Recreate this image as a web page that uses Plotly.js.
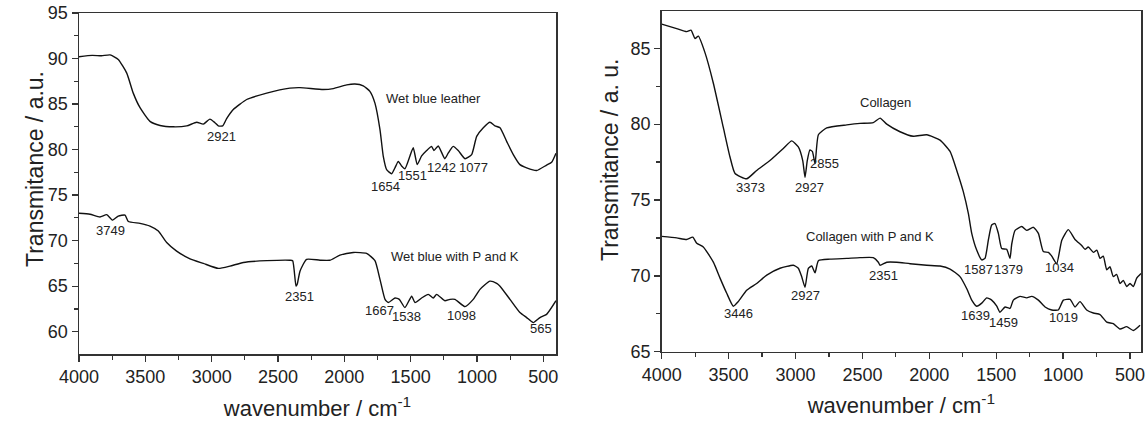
<!DOCTYPE html>
<html>
<head>
<meta charset="utf-8">
<script src="https://cdn.plot.ly/plotly-3.0.1.min.js"></script>
<style>html,body{margin:0;padding:0;background:#fff;}#chart{width:1148px;height:423px;}</style>
</head>
<body>
<div id="chart"></div>
<script>
// ---- Left panel: Wet blue leather ----
const wblX = [4000,3900,3830,3766,3704,3640,3591,3540,3465,3389,3289,3188,3113,3063,3013,2975,2950,2917,2887,2837,2736,2585,2410,2334,2158,2083,1982,1920,1857,1807,1769,1731,1706,1681,1643,1618,1593,1568,1543,1505,1480,1450,1417,1379,1342,1324,1292,1242,1217,1179,1141,1090,1040,1002,952,902,864,826,776,726,676,625,550,475,437,404];
const wblY = [90.2,90.35,90.3,90.4,89.9,88.4,86.2,84.6,83.1,82.65,82.5,82.6,83.0,82.8,83.35,82.95,82.6,82.6,83.4,84.4,85.5,86.2,86.75,86.8,86.6,86.7,87.1,87.2,87.0,86.4,85.1,82.2,79.25,77.8,77.35,78.0,78.7,78.2,77.9,79.3,80.2,78.35,79.3,79.9,80.35,79.9,80.4,79.0,79.6,80.35,79.9,79.0,79.45,81.45,82.4,83.0,82.6,82.4,80.9,79.45,78.35,78.0,77.7,78.3,78.6,79.6];

// ---- Left panel: Wet blue with P and K ----
const wbpX = [4000,3917,3842,3791,3746,3704,3653,3628,3540,3465,3402,3339,3264,3163,3063,2950,2862,2761,2585,2410,2389,2364,2355,2334,2284,2183,2108,2033,1932,1832,1769,1731,1693,1668,1618,1585,1543,1492,1467,1417,1367,1329,1304,1242,1204,1166,1090,1028,977,902,851,826,751,676,625,575,525,475,404];
const wbpY = [73.0,72.9,72.6,72.85,72.25,72.7,72.8,72.1,71.9,71.6,71.05,69.8,68.85,68.0,67.5,66.95,67.2,67.6,67.8,67.85,67.8,65.0,65.2,66.65,67.95,67.85,67.85,68.4,68.7,68.6,67.8,65.75,63.55,63.2,63.7,63.55,62.65,63.9,63.2,63.7,64.1,63.7,64.1,63.4,63.55,63.55,62.75,63.55,64.65,65.55,65.3,65.0,63.55,62.1,61.55,61.0,61.55,61.9,63.4];

// ---- Right panel: Collagen ----
const colX = [4000,3888,3813,3781,3751,3726,3676,3614,3540,3490,3452,3365,3290,3191,3091,3028,2979,2946,2929,2912,2892,2874,2854,2829,2767,2617,2518,2419,2368,2318,2219,2120,2019,1920,1845,1795,1746,1708,1683,1646,1608,1584,1559,1534,1509,1484,1459,1422,1397,1384,1359,1309,1272,1222,1185,1148,1110,1085,1048,1010,961,911,861,836,812,774,748,724,700,674,650,625,600,575,550,525,500,475,450,418];
const colY = [86.6,86.3,86.1,86.2,85.65,85.8,84.7,82.7,79.8,77.85,76.75,76.4,76.95,77.6,78.4,78.9,78.5,77.6,76.5,77.6,78.3,78.2,77.4,79.3,79.75,79.95,80.05,80.1,80.4,80.0,79.5,79.2,79.3,78.95,78.2,76.95,75.55,74.1,72.8,71.7,71.05,71.15,72.35,73.35,73.45,72.8,71.8,71.75,71.15,72.1,73.0,73.25,73.0,73.2,72.8,71.6,71.55,71.3,70.8,72.35,73.05,72.4,72.0,71.75,71.9,71.55,71.7,71.15,71.3,70.4,70.6,69.95,70.1,69.5,69.7,69.3,69.5,69.3,69.85,70.15];

// ---- Right panel: Collagen with P and K ----
const cpkX = [4000,3888,3813,3768,3738,3689,3614,3564,3514,3465,3428,3365,3290,3215,3116,3016,2979,2954,2929,2904,2879,2854,2829,2742,2617,2518,2419,2381,2368,2318,2244,2144,2019,1920,1845,1771,1720,1683,1646,1608,1571,1534,1496,1472,1434,1397,1372,1322,1272,1235,1185,1135,1085,1036,998,948,911,874,824,774,724,674,625,575,525,475,425];
const cpkY = [72.6,72.5,72.4,72.55,72.15,71.9,70.9,69.85,68.85,68.0,68.3,69.05,69.5,70.05,70.5,70.7,70.5,69.95,69.25,70.5,70.65,70.2,71.0,71.1,71.15,71.2,71.2,70.9,70.7,70.9,70.9,70.8,70.7,70.65,70.45,69.95,69.15,68.4,68.0,68.2,68.55,68.4,68.0,67.6,67.95,67.85,68.4,68.65,68.55,68.65,68.4,67.95,67.75,67.75,68.4,68.45,67.95,68.3,67.75,67.55,67.45,66.95,66.85,66.5,66.65,66.4,66.75];

// ---- Labels ----
const leftLabels = ["2921","Wet blue leather","1654","1551","1242","1077","3749","2351","Wet blue with P and K","1667","1538","1098","565"];
const leftLabelX = [2924,1324,1686,1485,1266,1028,3766,2334,1166,1736,1530,1115,520];
const leftLabelY = [81.45,85.65,76.0,77.1,78.0,78.0,71.15,63.85,68.3,62.3,61.65,61.8,60.35];

const rightLabels = ["3373","2927","2855","Collagen","3446","2927","Collagen with P and K","2351","1587","1379","1034","1639","1459","1019"];
const rightLabelX = [3335,2897,2780,2331,3427,2929,2443,2344,1634,1410,1028,1658,1447,998];
const rightLabelY = [75.8,75.8,77.4,81.4,67.5,68.7,72.6,70.0,70.4,70.4,70.55,67.4,66.95,67.25];

const xTickVals = [4000,3500,3000,2500,2000,1500,1000,500];

const lineStyle = {color:'#111', width:1.4, shape:'spline', smoothing:0.5};
const traces = [
  {x:wblX, y:wblY, xaxis:'x', yaxis:'y', mode:'lines', line:lineStyle},
  {x:wbpX, y:wbpY, xaxis:'x', yaxis:'y', mode:'lines', line:lineStyle},
  {x:colX, y:colY, xaxis:'x2', yaxis:'y2', mode:'lines', line:lineStyle},
  {x:cpkX, y:cpkY, xaxis:'x2', yaxis:'y2', mode:'lines', line:lineStyle}
];

const FONT = 'Liberation Sans, Arial, sans-serif';
function xAxis(domain, range, anchor){
  return {domain:domain, range:range, anchor:anchor, showgrid:false, zeroline:false,
    showline:true, linecolor:'#333', linewidth:1.5, mirror:true,
    ticks:'outside', ticklen:6, tickwidth:1.3, tickcolor:'#333',
    tickvals:xTickVals, ticktext:xTickVals.map(String),
    minor:{dtick:250, tick0:0, ticks:'outside', ticklen:4, tickwidth:1.2, tickcolor:'#333'},
    tickfont:{family:FONT, size:18, color:'#222'},
    title:{text:'wavenumber / cm<sup>-1</sup>', font:{family:FONT, size:22, color:'#222'}, standoff:14}};
}
function yAxis(domain, range, anchor){
  return {domain:domain, range:range, anchor:anchor, showgrid:false, zeroline:false,
    showline:true, linecolor:'#333', linewidth:1.5, mirror:true,
    ticks:'outside', ticklen:6, tickwidth:1.3, tickcolor:'#333', dtick:5, tick0:0,
    minor:{dtick:2.5, tick0:0, ticks:'outside', ticklen:4, tickwidth:1.2, tickcolor:'#333'},
    tickfont:{family:FONT, size:18, color:'#222'}};
}

const annotations = [];
leftLabels.forEach((t,i)=>annotations.push({text:t, x:leftLabelX[i], y:leftLabelY[i], xref:'x', yref:'y', showarrow:false, font:{family:FONT, size:13, color:'#222'}}));
rightLabels.forEach((t,i)=>annotations.push({text:t, x:rightLabelX[i], y:rightLabelY[i], xref:'x2', yref:'y2', showarrow:false, font:{family:FONT, size:13, color:'#222'}}));
annotations.push({text:'Transmitance / a.u.', textangle:-90, xref:'paper', yref:'paper', x:20/1148, y:1-169/423, showarrow:false, font:{family:FONT, size:23, color:'#222'}});
annotations.push({text:'Transmitance / a. u.', textangle:-90, xref:'paper', yref:'paper', x:610/1148, y:1-160/423, showarrow:false, font:{family:FONT, size:23, color:'#222'}});

const layout = {
  width:1148, height:423, margin:{l:0, r:0, t:0, b:0},
  paper_bgcolor:'#fff', plot_bgcolor:'#fff', showlegend:false,
  xaxis: xAxis([79/1148, 556/1148], [4000, 404], 'y'),
  yaxis: yAxis([(423-354)/423, (423-13)/423], [57.55, 95], 'x'),
  xaxis2: xAxis([661.7/1148, 1141/1148], [4000, 418], 'y2'),
  yaxis2: yAxis([(423-351.7)/423, (423-11)/423], [65, 87.46], 'x2'),
  annotations: annotations
};

Plotly.newPlot('chart', traces, layout, {staticPlot:true, displayModeBar:false});
</script>
</body>
</html>
